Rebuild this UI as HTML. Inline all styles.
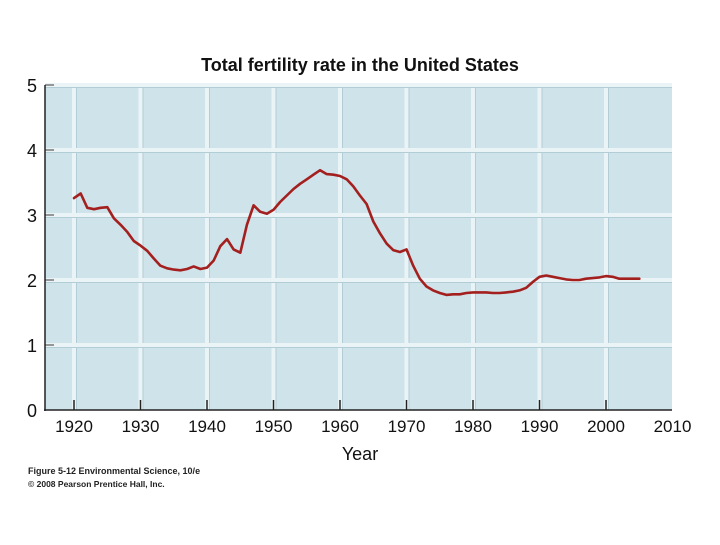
<!DOCTYPE html>
<html><head><meta charset="utf-8"><style>
body{margin:0;background:#fff;width:720px;height:540px;overflow:hidden}
text{font-family:"Liberation Sans",Arial,sans-serif}
</style></head><body>
<svg id="chart" width="720" height="540">
<text x="360" y="71" text-anchor="middle" font-size="18" font-weight="bold" fill="#111">Total fertility rate in the United States</text>
<rect x="45" y="85" width="627" height="325" fill="#cfe3ea"/>
<g id="grid"></g>
<g id="axes"></g>
<path id="line" fill="none" stroke="#a3201f" stroke-width="2.6" stroke-linejoin="round" stroke-linecap="round"/>
<text x="360" y="460" text-anchor="middle" font-size="18" fill="#111">Year</text>
<text x="28" y="474" font-size="9" font-weight="bold" fill="#222">Figure 5-12  Environmental Science, 10/e</text>
<text x="28" y="487" font-size="8.5" font-weight="bold" fill="#222">© 2008 Pearson Prentice Hall, Inc.</text>
</svg>
<script>
const years=[1920,1921,1922,1923,1924,1925,1926,1927,1928,1929,1930,1931,1932,1933,1934,1935,1936,1937,1938,1939,1940,1941,1942,1943,1944,1945,1946,1947,1948,1949,1950,1951,1952,1953,1954,1955,1956,1957,1958,1959,1960,1961,1962,1963,1964,1965,1966,1967,1968,1969,1970,1971,1972,1973,1974,1975,1976,1977,1978,1979,1980,1981,1982,1983,1984,1985,1986,1987,1988,1989,1990,1991,1992,1993,1994,1995,1996,1997,1998,1999,2000,2001,2002,2003,2004,2005];
const rates=[3.26,3.33,3.11,3.09,3.11,3.12,2.95,2.85,2.74,2.6,2.53,2.45,2.33,2.22,2.18,2.16,2.15,2.17,2.21,2.17,2.19,2.3,2.52,2.63,2.47,2.42,2.85,3.15,3.05,3.02,3.08,3.2,3.3,3.4,3.48,3.55,3.62,3.69,3.63,3.62,3.6,3.55,3.44,3.3,3.17,2.9,2.72,2.56,2.46,2.43,2.47,2.22,2.02,1.9,1.84,1.8,1.77,1.78,1.78,1.8,1.81,1.81,1.81,1.8,1.8,1.81,1.82,1.84,1.88,1.97,2.05,2.07,2.05,2.03,2.01,2.0,2.0,2.02,2.03,2.04,2.06,2.05,2.02,2.02,2.02,2.02];
const xTicks=[1920,1930,1940,1950,1960,1970,1980,1990,2000,2010];
const yTicks=[0,1,2,3,4,5];
const NS="http://www.w3.org/2000/svg";
const X=y=>74+(y-1920)*6.65;
const Y=v=>410-v*65;
function mk(tag,attrs,parent,txt){const e=document.createElementNS(NS,tag);for(const k in attrs)e.setAttribute(k,attrs[k]);if(txt!==undefined)e.textContent=txt;parent.appendChild(e);return e;}
const grid=document.getElementById('grid'),axes=document.getElementById('axes');
xTicks.forEach(t=>{if(t<2010){
 const g=mk('line',{x1:X(t),x2:X(t),y1:85,y2:410,stroke:'#eaf4f7','stroke-width':4},grid);
 
 
 const s=mk('line',{x1:X(t)+2.5,x2:X(t)+2.5,y1:85,y2:410,stroke:'#b3cdd6','stroke-width':1},grid);
 
 
 const tk=mk('line',{x1:X(t),x2:X(t),y1:400,y2:410,stroke:'#222','stroke-width':1.5},axes);
 
 }
 const l=mk('text',{x:X(t),y:432,'text-anchor':'middle','font-size':17,fill:'#111'},axes,t);
 
 
});
yTicks.forEach(v=>{
 if(v>0){const g=mk('line',{x1:45,x2:672,y1:Y(v),y2:Y(v),stroke:'#eaf4f7','stroke-width':4},grid);
 
 
 const s=mk('line',{x1:45,x2:672,y1:Y(v)+2.5,y2:Y(v)+2.5,stroke:'#b3cdd6','stroke-width':1},grid);
 
 
 const tk=mk('line',{x1:45,x2:54,y1:Y(v),y2:Y(v),stroke:'#777','stroke-width':1.5},axes);
 
 }
 const l=mk('text',{x:32,y:Y(v)+7,'text-anchor':'middle','font-size':18,fill:'#111'},axes,v);
 
 
});
const ya=mk('line',{x1:45,x2:45,y1:85,y2:411,stroke:'#222','stroke-width':1.5},axes);


const xa=mk('line',{x1:44,x2:672,y1:410,y2:410,stroke:'#222','stroke-width':1.5},axes);


document.getElementById('line').setAttribute('d',years.map((y,i)=>(i?'L':'M')+X(y).toFixed(1)+','+Y(rates[i]).toFixed(1)).join(' '));
</script>
</body></html>
